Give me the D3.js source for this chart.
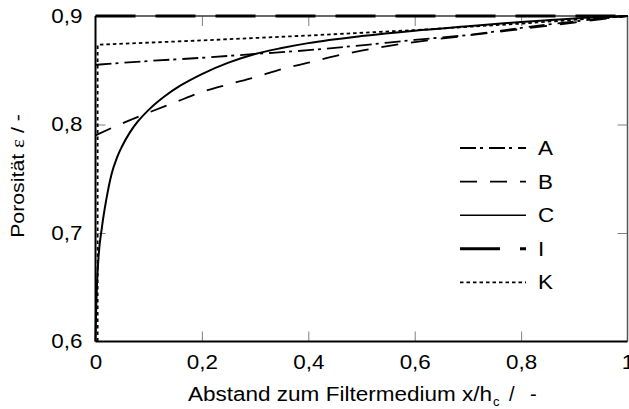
<!DOCTYPE html>
<html lang="de">
<head>
  <meta charset="utf-8">
  <title>Porositaet</title>
  <script src="https://d3js.org/d3.v7.min.js"></script>
  <style>
    body { margin: 0; background: #fff; }
    svg text { font-family: "Liberation Sans", Arial, sans-serif; fill: #000; }
    .axis .domain { display: none; }
    .axis line { stroke: #808080; stroke-width: 1; }
    .axis text { font-size: 20px; }
  </style>
</head>
<body>
<script>

// tick values and labels
var xTicks = [0, 0.2, 0.4, 0.6, 0.8, 1];
var xTickLabels = ["0", "0,2", "0,4", "0,6", "0,8", "1"];
var yTicks = [0.6, 0.7, 0.8, 0.9];
var yTickLabels = ["0,6", "0,7", "0,8", "0,9"];

// curves, [x/hc, porosity]
var curveA = [[0, 0.855], [0.1, 0.8585], [0.2, 0.8615], [0.3, 0.865], [0.4, 0.8685],
              [0.5, 0.873], [0.6, 0.878], [0.7, 0.8825], [0.8, 0.889], [0.9, 0.895], [1, 0.9]];
var curveB = [[0, 0.79], [0.05, 0.801], [0.1, 0.811], [0.15, 0.8205], [0.2, 0.83], [0.25, 0.837],
              [0.3, 0.8435], [0.35, 0.851], [0.4, 0.857], [0.45, 0.863], [0.5, 0.868], [0.6, 0.876],
              [0.7, 0.882], [0.8, 0.888], [0.9, 0.894], [1, 0.9]];
var curveC = [[0, 0.6], [0.001, 0.625], [0.003, 0.655], [0.006, 0.68], [0.012, 0.705], [0.02, 0.73],
              [0.03, 0.754], [0.04, 0.769], [0.05, 0.78], [0.065, 0.793], [0.08, 0.803], [0.1, 0.8135],
              [0.13, 0.826], [0.16, 0.836], [0.2, 0.8465], [0.25, 0.857], [0.3, 0.865], [0.35, 0.8705],
              [0.4, 0.875], [0.5, 0.8815], [0.6, 0.8865], [0.7, 0.8905], [0.8, 0.8945], [0.9, 0.8978], [1, 0.9]];
var curveI = [[0, 0.9], [1, 0.9]];
var curveK = [[0.004, 0.6], [0.004, 0.8735], [0.2, 0.8775], [0.4, 0.882], [0.6, 0.887], [0.8, 0.893], [1, 0.9]];

var seriesNames = ["A", "B", "C", "I", "K"];

var styles = {
  A: {dash: "16,4,3,6", width: 1.8, smooth: true},
  B: {dash: "17,13", width: 1.8, smooth: true},
  C: {dash: null, width: 2, smooth: true},
  I: {dash: "40,20", width: 3, smooth: false},
  K: {dash: "3.5,3", width: 1.8, smooth: false}
};
var dataByName = {A: curveA, B: curveB, C: curveC, I: curveI, K: curveK};

var margin = {top: 16, right: 1.5, bottom: 67.5, left: 95.5};
var outer_width = 629, outer_height = 409;
var width = outer_width - margin.left - margin.right;
var height = outer_height - margin.top - margin.bottom;

// the original text is a little wider than Arial, stretch it a bit
var stretch = 1.12;
function widen(sel) {
  sel.each(function() {
    var w = this.getComputedTextLength();
    d3.select(this).attr("textLength", w * stretch).attr("lengthAdjust", "spacingAndGlyphs");
  });
}

var svg = d3.select("body").append("svg")
  .attr("width", outer_width)
  .attr("height", outer_height);

var g = svg.append("g")
  .attr("transform", "translate(" + margin.left + "," + margin.top + ")");

var xScale = d3.scaleLinear().domain([0, 1]).range([0, width]);
var yScale = d3.scaleLinear().domain([0.6, 0.9]).range([height, 0]);

// ticks inward on all four sides
var inner = [0.2, 0.4, 0.6, 0.8];
var innerY = [0.7, 0.8];

var xAxisG = g.append("g").attr("class", "axis")
  .attr("transform", "translate(0," + height + ")")
  .call(d3.axisBottom(xScale).tickValues(xTicks).tickSize(-10).tickPadding(13)
        .tickFormat(function(d, i) { return xTickLabels[i]; }));
xAxisG.selectAll(".tick line").attr("opacity", function(d) { return inner.indexOf(d) >= 0 ? 1 : 0; });
widen(xAxisG.selectAll("text"));

g.append("g").attr("class", "axis")
  .call(d3.axisTop(xScale).tickValues(inner).tickSize(-10).tickFormat(""));

var yAxisG = g.append("g").attr("class", "axis")
  .call(d3.axisLeft(yScale).tickValues(yTicks).tickSize(-10).tickPadding(13)
        .tickFormat(function(d, i) { return yTickLabels[i]; }));
yAxisG.selectAll(".tick line").attr("opacity", function(d) { return innerY.indexOf(d) >= 0 ? 1 : 0; });
widen(yAxisG.selectAll("text"));

g.append("g").attr("class", "axis")
  .attr("transform", "translate(" + width + ",0)")
  .call(d3.axisRight(yScale).tickValues(innerY).tickSize(-10).tickFormat(""));

// frame
g.append("line").attr("x1", 0).attr("x2", width).attr("y1", 0).attr("y2", 0)
  .attr("stroke", "#333").attr("stroke-width", 1.5);
g.append("line").attr("x1", width).attr("x2", width).attr("y1", 0).attr("y2", height)
  .attr("stroke", "#555").attr("stroke-width", 1.5);
g.append("line").attr("x1", 0).attr("x2", width).attr("y1", height).attr("y2", height)
  .attr("stroke", "#000").attr("stroke-width", 2);
g.append("line").attr("x1", 0).attr("x2", 0).attr("y1", 0).attr("y2", height)
  .attr("stroke", "#000").attr("stroke-width", 2);

// curves
seriesNames.forEach(function(name) {
  var st = styles[name];
  var line = d3.line()
    .x(function(d) { return xScale(d[0]); })
    .y(function(d) { return yScale(d[1]); })
    .curve(st.smooth ? d3.curveMonotoneX : d3.curveLinear);
  g.append("path")
    .datum(dataByName[name])
    .attr("d", line)
    .attr("fill", "none")
    .attr("stroke", "#000")
    .attr("stroke-width", st.width)
    .attr("stroke-dasharray", st.dash);
});

// legend
var legend = svg.append("g").attr("transform", "translate(460,148)");
seriesNames.forEach(function(name, i) {
  var st = styles[name];
  var row = legend.append("g").attr("transform", "translate(0," + (i * 33.6) + ")");
  row.append("line").attr("x1", 0).attr("x2", 66).attr("y1", 0).attr("y2", 0)
    .attr("stroke", "#000")
    .attr("stroke-width", name === "C" ? 1.5 : st.width)
    .attr("stroke-dasharray", st.dash);
  row.append("text").attr("x", 78).attr("y", 7).attr("font-size", 20).text(name)
    .call(widen);
});

// axis titles
svg.append("text")
  .attr("x", 188).attr("y", 401)
  .attr("font-size", 20)
  .attr("textLength", 304).attr("lengthAdjust", "spacingAndGlyphs")
  .text("Abstand zum Filtermedium x/h");
svg.append("text").attr("x", 493).attr("y", 406).attr("font-size", 13).text("c");
svg.append("text").attr("x", 509).attr("y", 401).attr("font-size", 20).text("/");
svg.append("text").attr("x", 530).attr("y", 401).attr("font-size", 20).text("-");

var yt = svg.append("text")
  .attr("transform", "translate(24,176) rotate(-90)")
  .attr("text-anchor", "middle")
  .attr("font-size", 19);
yt.append("tspan").text("Porosität ");
yt.append("tspan").attr("font-family", "Liberation Serif, serif").text("ε");
yt.append("tspan").text(" / -");
widen(yt);

</script>
</body>
</html>
